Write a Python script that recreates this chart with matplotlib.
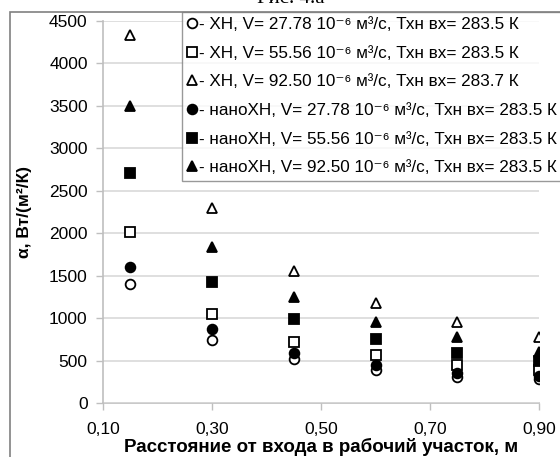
import matplotlib
matplotlib.use("Agg")
import matplotlib.pyplot as plt
from matplotlib.patches import Rectangle

plt.rcParams["font.family"] = ["Liberation Sans", "DejaVu Sans"]

# расстояние от входа, м
x_pos = [0.15, 0.30, 0.45, 0.60, 0.75, 0.90]

# коэффициент теплоотдачи, Вт/(м2 К)
xn_v1 = [1400, 742, 514, 390, 305, 280]
xn_v2 = [2010, 1047, 722, 561, 447, 390]
xn_v3 = [4340, 2303, 1557, 1180, 949, 780]
nano_v1 = [1606, 868, 584, 447, 350, 320]
nano_v2 = [2705, 1425, 984, 749, 592, 490]
nano_v3 = [3502, 1835, 1243, 957, 773, 600]

labels = [
    "- ХН, V= 27.78 10⁻⁶ м³/с, Тхн вх= 283.5 К",
    "- ХН, V= 55.56 10⁻⁶ м³/с, Тхн вх= 283.5 К",
    "- ХН, V= 92.50 10⁻⁶ м³/с, Тхн вх= 283.7 К",
    "- наноХН, V= 27.78 10⁻⁶ м³/с, Тхн вх= 283.5 К",
    "- наноХН, V= 55.56 10⁻⁶ м³/с, Тхн вх= 283.5 К",
    "- наноХН, V= 92.50 10⁻⁶ м³/с, Тхн вх= 283.5 К",
]

series = [xn_v1, xn_v2, xn_v3, nano_v1, nano_v2, nano_v3]
markers = ["o", "s", "^", "o", "s", "^"]
filled = [False, False, False, True, True, True]

fig = plt.figure(figsize=(5.6, 4.57), dpi=100)
ax = fig.add_axes([103/560, 1 - 403/457, 436/560, 382/457])

for vals, m, f, lab in zip(series, markers, filled, labels):
    ax.plot(x_pos, vals, linestyle="none", marker=m, markersize=7,
            markerfacecolor="black" if f else "white", markeredgecolor="black",
            markeredgewidth=1.3, label=lab)

ax.set_xlim(0.10, 0.90)
ax.set_ylim(0, 4500)
ax.set_xticks([0.10, 0.30, 0.50, 0.70, 0.90])
ax.set_xticklabels(["0,10", "0,30", "0,50", "0,70", "0,90"])
ax.set_yticks(range(0, 4501, 500))
ax.tick_params(axis="both", labelsize=12.5, color="#bfbfbf", length=5, width=1)
ax.tick_params(axis="x", pad=9)
ax.tick_params(axis="y", pad=6)
ax.grid(axis="y", color="#d9d9d9", linewidth=1.2)
ax.set_axisbelow(True)
for s in ["top", "right"]:
    ax.spines[s].set_visible(False)
for s in ["left", "bottom"]:
    ax.spines[s].set_color("#bfbfbf")
    ax.spines[s].set_linewidth(1.2)
ax.spines["bottom"].set_zorder(0)

ax.set_xlabel("Расстояние от входа в рабочий участок, м", fontsize=13.5,
              fontweight="bold", labelpad=0)
ax.set_ylabel("α, Вт/(м²/К)", fontsize=12.5, fontweight="bold", labelpad=12)

leg = ax.legend(loc="upper left", bbox_to_anchor=(182/560, 1 - 12/457),
                bbox_transform=fig.transFigure, fontsize=12.3, frameon=True,
                fancybox=False, handlelength=0.6, handletextpad=0.1,
                borderpad=0.3, labelspacing=0.8, borderaxespad=0)
leg.get_frame().set_edgecolor("#808080")
leg.get_frame().set_linewidth(1.0)

# рамка рисунка и подпись
fig.patches.append(Rectangle((10/560, -0.1), 1.0, 1 - 12/457 + 0.1,
                             transform=fig.transFigure, fill=False,
                             edgecolor="#808080", linewidth=1.2))
fig.text(291/560, 1 - 3/457, "Рис. 4.а", ha="center", va="baseline",
         fontsize=15, family="Liberation Serif")

fig.savefig("out.png", dpi=100)
